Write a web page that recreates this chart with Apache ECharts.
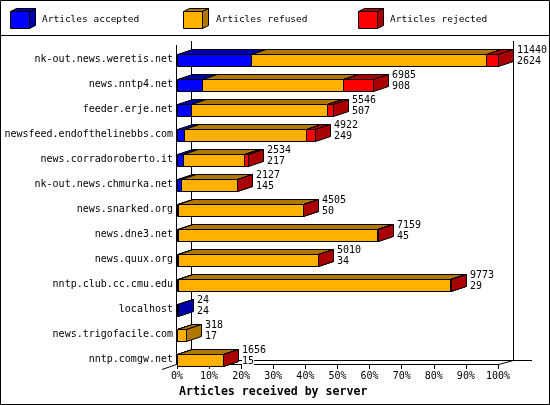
<!DOCTYPE html>
<html><head><meta charset="utf-8">
<script src="https://cdn.jsdelivr.net/npm/echarts@6/dist/echarts.min.js"></script>
<style>html,body{margin:0;padding:0;background:#fff}#c{width:550px;height:405px}</style>
</head><body><div id="c"></div>
<script>
var categories = ['nk-out.news.weretis.net','news.nntp4.net','feeder.erje.net','newsfeed.endofthelinebbs.com','news.corradoroberto.it','nk-out.news.chmurka.net','news.snarked.org','news.dne3.net','news.quux.org','nntp.club.cc.cmu.edu','localhost','news.trigofacile.com','nntp.comgw.net'];
var accepted = [2624, 908, 507, 249, 217, 145, 50, 45, 34, 29, 24, 17, 15];
var refused  = [8386, 5007, 4839, 4363, 2167, 1982, 4455, 7094, 4976, 9684, null, 301, 1641];
var rejected = [430, 1070, 200, 310, 150, 0, 0, 20, 0, 60, null, null, 0];
var seriesNames = ['Articles accepted','Articles refused','Articles rejected'];
var axisTitle = 'Articles received by server';

var FRONT = ['#0000ff','#ffb000','#ff0000'];
var DARK  = ['#0000aa','#b07800','#aa0000'];
var DX = 15, DY = 5, HALF = 6;
var FONT = '10px "DejaVu Sans Mono", monospace';

var valueArrays = [accepted, refused, rejected];
var totals = categories.map(function(_, i){ return (accepted[i]||0)+(refused[i]||0)+(rejected[i]||0); });
var maxTotal = Math.max.apply(null, totals);

function makeRender(front, dark){
  return function(params, api){
    var cat = api.value(0), s = api.value(1), e = api.value(2);
    var p0 = api.coord([s, cat]), p1 = api.coord([e, cat]);
    var x0 = Math.round(p0[0]) + 0.5, x1 = Math.round(p1[0]) + 0.5;
    var yt = Math.round(p0[1] - HALF) + 0.5, yb = yt + 2*HALF;
    var st = {stroke:'#000', lineWidth:1};
    return {type:'group', children:[
      {type:'polygon', shape:{points:[[x0,yt],[x0+DX,yt-DY],[x1+DX,yt-DY],[x1,yt]]}, style:{fill:dark, stroke:'#000', lineWidth:1}},
      {type:'rect', shape:{x:x0, y:yt, width:x1-x0, height:yb-yt}, style:{fill:front, stroke:'#000', lineWidth:1}},
      {type:'polygon', shape:{points:[[x1,yt],[x1+DX,yt-DY],[x1+DX,yb-DY],[x1,yb]]}, style:{fill:dark, stroke:'#000', lineWidth:1}}
    ]};
  };
}

var cum = categories.map(function(){ return 0; });
var series = valueArrays.map(function(vals, k){
  var data = [];
  vals.forEach(function(v, i){
    if (v == null) return;
    var s = cum[i], e = s + v / maxTotal * 100;
    cum[i] = e;
    data.push([i, s, e]);
  });
  return {type:'custom', name:seriesNames[k], z: 3 + k, renderItem: makeRender(FRONT[k], DARK[k]),
    encode:{y:0, x:[1,2]}, data:data, silent:true};
});

var labelData = categories.map(function(_, i){ return [i, totals[i]/maxTotal*100, totals[i], accepted[i]]; });
series.push({type:'custom', z: 10, silent:true, encode:{y:0, x:1}, data: labelData,
  renderItem: function(params, api){
    var p = api.coord([api.value(1), api.value(0)]);
    var x = Math.round(p[0]) + DX + 4, cy = p[1];
    function t(txt, y){
      return {type:'text', x:x, y:y, style:{text:String(txt), font:FONT, fill:'#000', align:'left', textAlign:'left', verticalAlign:'middle', textVerticalAlign:'middle', backgroundColor:'#fff'}};
    }
    return {type:'group', children:[ t(api.value(2), cy - 9.5), t(api.value(3), cy + 1.5) ]};
  }
});

var graphics = [
  {type:'rect', z:0, shape:{x:0.5, y:0.5, width:549, height:404}, style:{fill:null, stroke:'#000', lineWidth:1}},
  {type:'line', z:0, shape:{x1:0, y1:35.5, x2:550, y2:35.5}, style:{stroke:'#000', lineWidth:1}},
  {type:'line', z:0, shape:{x1:191.5, y1:41, x2:191.5, y2:360.5}, style:{stroke:'#000', lineWidth:1}},
  {type:'line', z:0, shape:{x1:513.5, y1:41, x2:513.5, y2:360.5}, style:{stroke:'#000', lineWidth:1}},
  {type:'line', z:0, shape:{x1:191.5, y1:360.5, x2:532, y2:360.5}, style:{stroke:'#000', lineWidth:1}},
  {type:'line', z:0, shape:{x1:176.5, y1:45, x2:176.5, y2:364.5}, style:{stroke:'#000', lineWidth:1}},
  {type:'line', z:0, shape:{x1:162, y1:369.5, x2:176.5, y2:364.5}, style:{stroke:'#000', lineWidth:1}},
  {type:'line', z:0, shape:{x1:498.5, y1:364.5, x2:513.5, y2:360.5}, style:{stroke:'#000', lineWidth:1}},
  {type:'text', z:0, x:179, y:392, style:{text:axisTitle, font:'bold 11.6px "DejaVu Sans Mono", monospace', fill:'#000', align:'left', verticalAlign:'middle'}}
];
var legendX = [10, 183, 358], legendTextX = [42, 216, 390];
seriesNames.forEach(function(n, k){
  var x = legendX[k] + 0.5, y = 11.5, w = 19, h = 17, dx = 6, dy = 3;
  graphics.push({type:'polygon', z:1, shape:{points:[[x,y],[x+dx,y-dy],[x+w+dx,y-dy],[x+w,y]]}, style:{fill:DARK[k], stroke:'#000', lineWidth:1}});
  graphics.push({type:'polygon', z:1, shape:{points:[[x+w,y],[x+w+dx,y-dy],[x+w+dx,y+h-dy],[x+w,y+h]]}, style:{fill:DARK[k], stroke:'#000', lineWidth:1}});
  graphics.push({type:'rect', z:1, shape:{x:x, y:y, width:w, height:h}, style:{fill:FRONT[k], stroke:'#000', lineWidth:1}});
  graphics.push({type:'text', z:1, x:legendTextX[k], y:20, style:{text:n, font:'9.5px "DejaVu Sans Mono", monospace', fill:'#000', align:'left', verticalAlign:'middle'}});
});

var chart = echarts.init(document.getElementById('c'));
chart.setOption({
  animation:false,
  backgroundColor:'#fff',
  grid:{left:177, right:52, top:47, height:325},
  xAxis:{type:'value', min:0, max:100, interval:10, offset:-8,
    axisLine:{show:true, lineStyle:{color:'#000', width:1}},
    axisTick:{show:true, length:5, lineStyle:{color:'#000'}},
    splitLine:{show:false},
    axisLabel:{formatter:'{value}%', color:'#000', fontFamily:'DejaVu Sans Mono', fontSize:10, margin:7}},
  yAxis:{type:'category', inverse:true, data:categories,
    axisLine:{show:false}, axisTick:{show:false}, splitLine:{show:false},
    axisLabel:{color:'#000', fontFamily:'DejaVu Sans Mono', fontSize:10, margin:4}},
  graphic:{elements:graphics},
  series:series
});
</script></body></html>
